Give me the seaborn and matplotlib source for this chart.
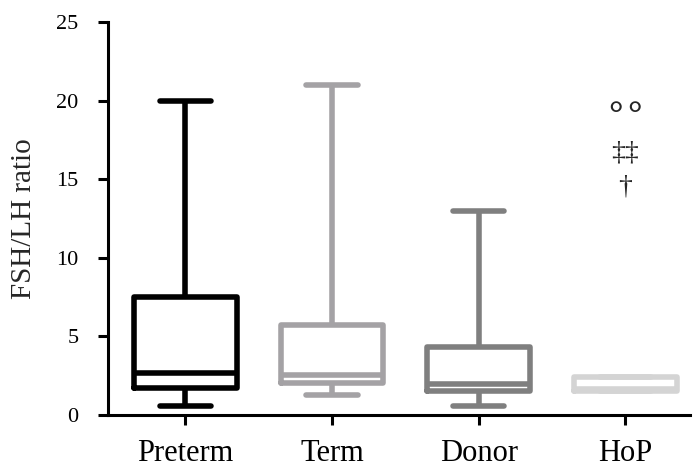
import matplotlib
matplotlib.use("Agg")
import matplotlib.pyplot as plt
import seaborn as sns
import pandas as pd

# five-number summaries: min, q1, median, q3, max
groups = ["Preterm", "Term", "Donor", "HoP"]
preterm = [0.55, 1.7, 2.67, 7.5, 20.0]
term = [1.27, 2.06, 2.55, 5.76, 21.0]
donor = [0.57, 1.53, 2.0, 4.33, 13.0]
hop = [1.56, 1.56, 1.67, 2.42, 2.42]
colors = ["#000000", "#a4a2a5", "#7f7f7f", "#d4d4d4"]

rows = []
for name, vals in zip(groups, [preterm, term, donor, hop]):
    for v in vals:
        rows.append({"group": name, "ratio": v})
df = pd.DataFrame(rows)

sns.set_style("ticks")
plt.rcParams["font.family"] = ["Liberation Serif", "DejaVu Serif"]

fig = plt.figure(figsize=(6.94, 4.68), dpi=100)
ax = fig.add_axes([0.156, 0.113, 0.838, 0.84])

sns.boxplot(data=df, x="group", y="ratio", hue="group", palette=colors,
            fill=False, whis=(0, 100), width=0.7, linewidth=4.0,
            legend=False, ax=ax)

# significance marks above HoP
for dx in (-0.066, 0.066):
    ax.text(3 + dx, 19.0, "°", ha="center", va="center", fontsize=26,
            fontweight="bold")
ax.text(3, 16.7, "‡‡", ha="center", va="center", fontsize=20)
ax.text(3, 14.5, "†", ha="center", va="center", fontsize=20)

ax.set_ylim(0, 25)
ax.set_xlim(-0.525, 3.44)
ax.set_yticks([0, 5, 10, 15, 20, 25])
ax.set_xlabel("")
ax.set_ylabel("FSH/LH ratio", fontsize=21)
ax.yaxis.set_label_coords(-0.122, 0.5)
ax.tick_params(axis="y", labelsize=16, width=2.2, length=7.5, pad=14,
               color="black", labelcolor="black")
ax.tick_params(axis="x", labelsize=22, width=2.2, length=7.5, pad=10,
               color="black", labelcolor="black")
sns.despine(ax=ax)
for s in ["left", "bottom"]:
    ax.spines[s].set_linewidth(2.2)
    ax.spines[s].set_color("black")

plt.savefig("out.png", dpi=100)
plt.close()
